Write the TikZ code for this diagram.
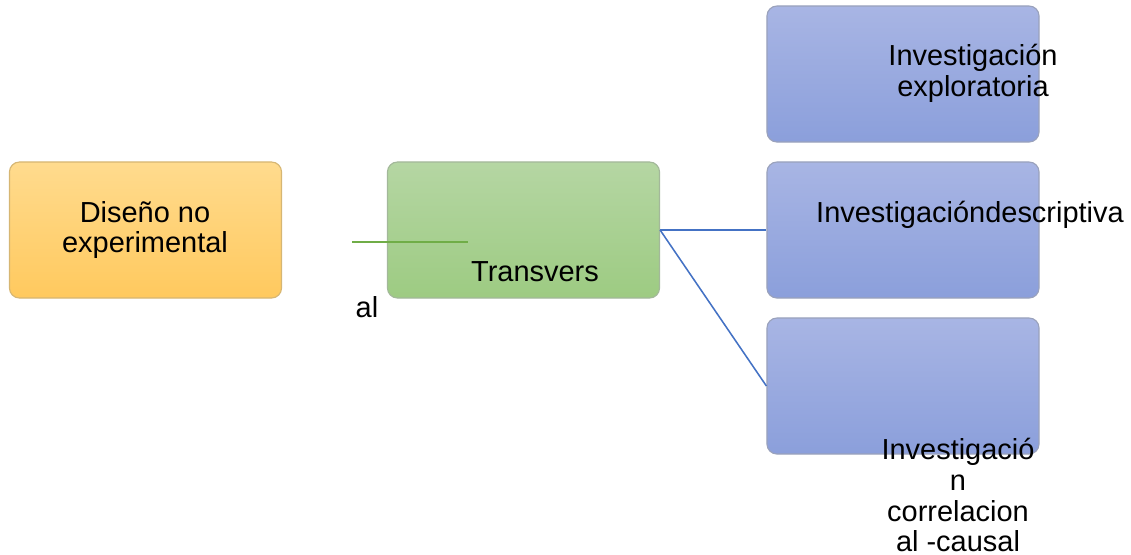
\documentclass[tikz,border=0pt]{standalone}
\usepackage{fontspec}
\setmainfont{Liberation Sans}
\usepackage{tikz}
\usetikzlibrary{calc}

\definecolor{orangetop}{HTML}{FFDB8E}
\definecolor{orangebot}{HTML}{FFC95E}
\definecolor{orangeline}{HTML}{D6B673}
\definecolor{greentop}{HTML}{B5D6A3}
\definecolor{greenbot}{HTML}{9DCB82}
\definecolor{greenline}{HTML}{A3B89A}
\definecolor{bluetop}{HTML}{A8B5E4}
\definecolor{bluebot}{HTML}{8B9FDB}
\definecolor{blueline}{HTML}{9AA2BC}
\definecolor{linkblue}{HTML}{4472C4}
\definecolor{linkgreen}{HTML}{70AD47}

\tikzset{
  box/.style={rectangle, rounded corners=0.25cm, line width=0.8pt,
    minimum width=6.8cm, minimum height=3.4cm, inner sep=0pt},
  orangebox/.style={box, draw=orangeline, top color=orangetop, bottom color=orangebot},
  greenbox/.style={box, draw=greenline, top color=greentop, bottom color=greenbot},
  bluebox/.style={box, draw=blueline, top color=bluetop, bottom color=bluebot},
  label/.style={align=center, inner sep=0pt, font=\fontsize{20.6}{22}\selectfont},
}

\begin{document}
\begin{tikzpicture}[x=0.025cm, y=-0.025cm]
    \useasboundingbox (0,0) rectangle (1131,554);

    % boxes
    \node[orangebox] (diseno) at (145.5,230) {};
    \node[greenbox] (trans) at (523.5,230) {};
    \node[bluebox] (explo) at (903,74) {};
    \node[bluebox] (desc) at (903,230) {};
    \node[bluebox] (corr) at (903,386) {};

    % texts
    \node[label] (disenotxt) at (145,230) {Diseño no\\experimental};
    \node[label] (transtxt) at (535,272) {Transvers};
    \node[label] (altxt) at (367,307) {al};
    \node[label] (explotxt) at (973,73) {Investigación\\exploratoria};
    \node[label] (desctxt) at (970,215) {Investigacióndescriptiva};
    \node[label] (corrtxt) at (958,495) {Investigació\\n\\correlacion\\al -causal};

    % links
    \coordinate (gstart) at (352,242);
    \coordinate (gend) at (468,242);
    \draw [linkgreen, line width=1pt] (gstart) -- (gend);
    \draw [linkblue, line width=1.1pt] (trans.east) -- (desc.west);
    \draw [linkblue, line width=1.1pt] (trans.east) -- (corr.west);
  \end{tikzpicture}
\end{document}
